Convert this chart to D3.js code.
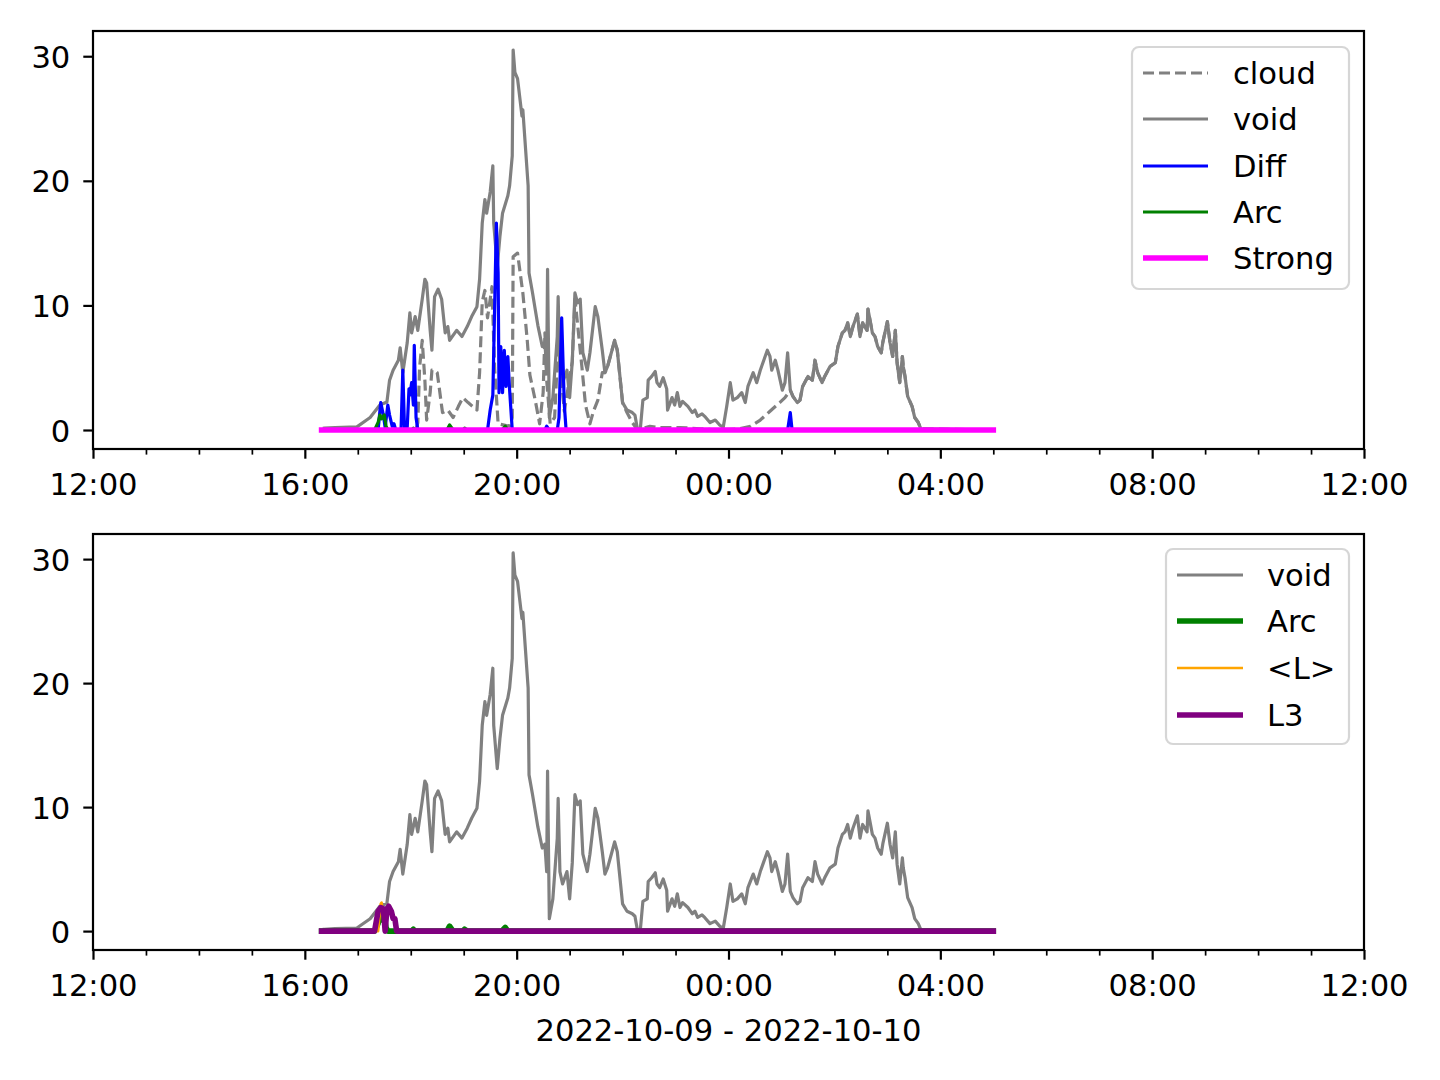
<!DOCTYPE html>
<html><head><meta charset="utf-8">
<script src="https://cdn.jsdelivr.net/npm/d3@7"></script>
<style>body{margin:0;background:#fff} text{font-family:"DejaVu Sans",sans-serif}</style>
</head><body><svg id="c" width="1440" height="1080"></svg>
<script>
// ---------- DATA (times are minutes after 2022-10-09 12:00) ----------
const voidMin = [
 262,274,299,314,325,333,336,340,346,348,
 351,356,359,361,365,368,373,376,378,382,
 384,387,391,395,399,402,404,412,418,424,
 429,435,438,441,444,446,450,453,454,458,
 461,464,470,472,475,476,478,481,486,487,
 493,494,498,501,504,509,512,514,515,517,
 521,526,527,529,532,537,540,543,546,549,
 552,555,560,563,569,572,577,580,583,588,
 591,594,597,600,605,611,614,617,620,623,
 628,629,633,637,639,642,646,650,651,656,
 659,662,665,668,674,679,682,685,690,693,
 699,705,710,714,718,722,725,730,735,739,
 742,748,752,756,759,764,767,769,773,776,
 781,784,787,790,793,798,801,804,810,815,
 818,821,826,829,835,841,844,849,852,855,
 858,861,866,869,872,877,878,883,886,889,
 893,895,900,903,906,909,911,914,917,918,
 920,923,928,931,935,938,1020];
const voidVal = [
 0.15,0.2,0.25,1.0,2.0,2.25,4.0,4.8,5.6,6.6,
 4.6,7.0,9.4,7.8,9.1,8.0,10.5,12.1,11.8,8.0,
 6.4,10.7,11.3,10.5,7.8,8.3,7.2,8.0,7.5,8.3,
 9.1,9.9,12.1,16.6,18.5,17.4,19.1,21.2,16.6,13.1,
 15.5,17.4,18.8,19.6,22.0,30.5,28.7,28.2,25.2,25.7,
 19.6,12.6,11.0,9.7,8.4,6.7,7.0,4.8,12.9,1.0,
 2.6,7.5,10.7,4.8,3.8,4.8,2.6,5.5,11.0,10.2,
 10.5,6.2,4.8,6.2,9.9,9.1,6.4,4.6,5.1,6.4,
 7.2,6.4,4.3,2.2,1.6,1.4,1.2,0.0,0.0,2.4,
 2.6,4.0,4.3,4.7,3.8,3.5,4.2,3.3,1.6,2.6,
 2.0,3.0,1.9,2.3,1.9,1.4,1.6,1.1,1.3,1.1,
 0.6,0.8,0.4,0.2,1.9,3.8,2.4,2.6,3.0,2.2,
 3.5,4.6,3.8,4.8,5.4,6.4,5.9,4.8,5.6,4.8,
 3.2,3.8,6.2,3.2,2.7,2.2,2.4,3.5,4.3,4.0,
 5.6,4.6,3.8,4.3,5.1,5.4,6.7,7.8,8.0,8.6,
 7.5,8.3,9.3,7.5,8.6,8.0,9.7,7.8,7.5,6.7,
 6.2,7.1,8.7,7.0,5.9,8.0,5.4,3.8,5.9,5.1,
 4.3,2.7,1.9,1.0,0.6,0.1,0.0];

// cloud: own readings up to 784 min, afterwards it coincides with void
const cloudMin = [
 259,366,368,370,373,376,378,382,384,387,
 390,393,395,396,402,408,414,419,425,430,
 435,438,441,444,447,452,455,459,472,475,
 476,481,484,487,492,495,501,506,510,512,
 514,518,523,527,531,534,543,546,549,554,
 558,563,567,572,577,580,583,588,591,594,
 597,600,605,611,617,631,642,665,688,710,
 733,745,756,767,778,784];
const cloudVal = [
 0,0,0.6,5.0,7.2,4.0,0.8,3.0,4.8,4.8,
 4.6,3.0,1.9,1.4,1.6,1.0,1.9,2.6,2.2,1.9,
 1.6,4.6,10.3,11.2,9.0,11.5,5.0,0.5,0.3,1.0,
 13.9,14.2,12.6,11.0,7.2,4.4,2.4,0.5,3.0,7.8,
 4.0,0.5,1.0,7.0,4.0,1.5,5.5,10.5,8.5,5.0,
 2.0,0.5,1.5,2.4,4.6,4.6,5.1,6.4,7.2,6.4,
 4.3,2.2,1.4,0.6,0,0.3,0.2,0.2,0.1,0,
 0.1,0.3,0.8,1.5,2.2,2.6];

const diffMin = [
 259,323,325,326,329,331,333,334,336,339,
 341,343,349,351,353,356,358,359,361,363,
 364,366,368,402,404,407,447,450,453,457,
 459,460,462,464,466,468,470,472,475,512,
 514,517,526,528,531,534,536,787,790,792,1020];
const diffVal = [
 0,0,1.5,2.2,1.2,0.2,1.4,2.0,1.2,0.3,
 0.5,0,0,4.8,0,0.2,3.3,2.8,3.8,2.0,
 6.8,1.0,0,0,0.3,0,0,1.6,2.8,16.6,
 12.6,3.0,6.7,3.0,6.4,3.5,5.9,3.2,0,0,
 0.3,0,0,1.0,9.0,2.0,0,0,1.4,0,0];

const arcMin = [259,319,323,325,327,330,332,334,361,363,364,401,404,408,419,421,424,463,467,470,1020];
const arcVal = [0,0,0.6,1.2,0.9,1.2,0.3,0,0,0.15,0,0,0.4,0,0,0.15,0,0,0.3,0,0];

const lMin = [259,323,326,327,330,333,335,338,341,343,346,1020];
const lVal = [0,0,2.2,2.3,0,1.8,2.0,1.5,1.2,0.2,0,0];

const l3Min = [259,319,323,326,329,331,333,335,338,340,342,344,1020];
const l3Val = [0,0,1.6,1.9,1.8,0,1.8,2.0,1.6,1.0,1.0,0,0];

const strongMin = [259,1020];
const strongVal = [0,0];

const yTicks = [0,10,20,30];
const xMajorHours = [0,4,8,12,16,20,24];   // hours after 12:00
const xLabel = "2022-10-09 - 2022-10-10";

// ---------- BUILD ----------
const t0 = new Date(2022, 9, 9, 12, 0);
const toDate = m => new Date(t0.getTime() + m*60000);
const zip = (ts, vs) => ts.map((t,i)=>({t: toDate(t), v: vs[i]}));

const voidData = zip(voidMin, voidVal);
const cloudData = zip(cloudMin, cloudVal).concat(voidData.filter(d => d.t >= toDate(790)));
const diffData = zip(diffMin, diffVal);
const arcData = zip(arcMin, arcVal);
const lData = zip(lMin, lVal);
const l3Data = zip(l3Min, l3Val);
const strongData = zip(strongMin, strongVal);

const svg = d3.select("#c");
svg.append("rect").attr("width",1440).attr("height",1080).attr("fill","#fff");

const X0 = 93, X1 = 1364;
const x = d3.scaleTime().domain([toDate(0), toDate(1440)]).range([X0, X1]);
const FS = 30.6;
const majorLen = 9.7, minorLen = 5.6, pad = 11;

const panels = [
  {top:31, bottom:449,
   series:[
     {name:"cloud", data:cloudData, color:"#808080", w:3.2, dash:"11,5"},
     {name:"void", data:voidData, color:"#808080", w:3.2},
     {name:"Diff", data:diffData, color:"#0000ff", w:3.2},
     {name:"Arc", data:arcData, color:"#008000", w:3.2},
     {name:"Strong", data:strongData, color:"#ff00ff", w:5.6}
   ],
   legend:{x:1132, y:47, w:217, h:242, hx0:1143, hx1:1208, tx:1233, rows:[73,119,166,212,258]}},
  {top:534, bottom:950,
   series:[
     {name:"void", data:voidData, color:"#808080", w:3.2},
     {name:"Arc", data:arcData, color:"#008000", w:5.6},
     {name:"<L>", data:lData, color:"#ffa500", w:2.6},
     {name:"L3", data:l3Data, color:"#800080", w:5.6}
   ],
   legend:{x:1166, y:549, w:183, h:195, hx0:1177, hx1:1243, tx:1267, rows:[575,621,668,715]}}
];

const minorTicks = d3.range(0, 25).filter(h => h % 4 !== 0).map(h => toDate(h*60));
const majorTicks = xMajorHours.map(h => toDate(h*60));
const fmt = d3.timeFormat("%H:%M");

panels.forEach((p, pi) => {
  const y = d3.scaleLinear().domain([-1.525, 32.025]).range([p.bottom, p.top]);
  const g = svg.append("g");
  const cid = "clip"+pi;
  svg.append("clipPath").attr("id", cid).append("rect")
    .attr("x", X0).attr("y", p.top).attr("width", X1-X0).attr("height", p.bottom-p.top);

  const line = d3.line().x(d => x(d.t)).y(d => y(d.v));
  const lg = g.append("g").attr("clip-path", `url(#${cid})`);
  p.series.forEach(s => {
    lg.append("path").datum(s.data).attr("d", line)
      .attr("fill","none").attr("stroke", s.color).attr("stroke-width", s.w)
      .attr("stroke-linejoin","round")
      .attr("stroke-linecap", s.dash ? "butt" : "square")
      .attr("stroke-dasharray", s.dash || null);
  });

  // axes
  const xa = d3.axisBottom(x).tickValues(majorTicks).tickFormat(fmt)
    .tickSizeInner(majorLen).tickSizeOuter(0).tickPadding(pad);
  const gx = g.append("g").attr("transform", `translate(0,${p.bottom})`).call(xa);
  gx.select(".domain").remove();
  gx.selectAll(".tick line").attr("stroke","#000").attr("stroke-width",2.2);
  gx.selectAll(".tick text").attr("font-size", FS).attr("fill","#000")
    .attr("font-family","DejaVu Sans").attr("dy", null).attr("y", 46);
  const xm = d3.axisBottom(x).tickValues(minorTicks).tickFormat("")
    .tickSizeInner(minorLen).tickSizeOuter(0);
  const gxm = g.append("g").attr("transform", `translate(0,${p.bottom})`).call(xm);
  gxm.select(".domain").remove();
  gxm.selectAll(".tick line").attr("stroke","#000").attr("stroke-width",1.7);

  const ya = d3.axisLeft(y).tickValues(yTicks).tickSizeInner(majorLen).tickSizeOuter(0).tickPadding(pad + 2);
  const gy = g.append("g").attr("transform", `translate(${X0},0)`).call(ya);
  gy.select(".domain").remove();
  gy.selectAll(".tick line").attr("stroke","#000").attr("stroke-width",2.2);
  gy.selectAll(".tick text").attr("font-size", FS).attr("fill","#000")
    .attr("font-family","DejaVu Sans").attr("dy","0.36em");

  // spines
  g.append("rect").attr("x", X0).attr("y", p.top).attr("width", X1-X0).attr("height", p.bottom-p.top)
    .attr("fill","none").attr("stroke","#000").attr("stroke-width",2.2);

  // legend
  const L = p.legend;
  const lgd = g.append("g");
  lgd.append("rect").attr("x", L.x).attr("y", L.y).attr("width", L.w).attr("height", L.h)
    .attr("rx", 7).attr("fill","#fff").attr("fill-opacity",0.8)
    .attr("stroke","#cccccc").attr("stroke-opacity",0.8).attr("stroke-width",2.2);
  p.series.forEach((s, i) => {
    const ry = L.rows[i];
    lgd.append("line").attr("x1", L.hx0).attr("x2", L.hx1).attr("y1", ry).attr("y2", ry)
      .attr("stroke", s.color).attr("stroke-width", s.w)
      .attr("stroke-dasharray", s.dash || null);
    lgd.append("text").attr("x", L.tx).attr("y", ry + 11).attr("font-size", FS)
      .attr("fill","#000").text(s.name);
  });
});

svg.append("text").attr("x", (X0+X1)/2).attr("y", 1041).attr("text-anchor","middle")
  .attr("font-size", FS).attr("fill","#000").text(xLabel);
</script></body></html>
